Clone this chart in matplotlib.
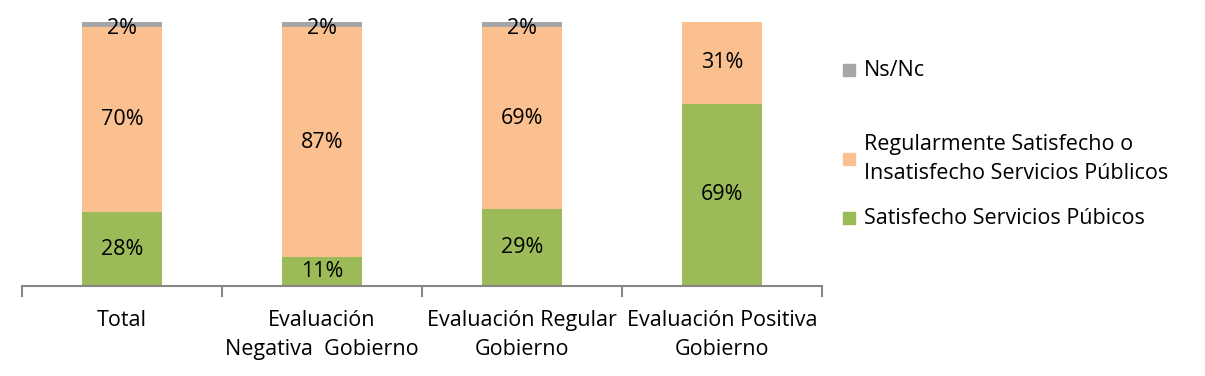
import matplotlib.pyplot as plt
from matplotlib.patches import Rectangle

# Data
categories = ["Total", "Evaluación\nNegativa  Gobierno", "Evaluación Regular\nGobierno",
              "Evaluación Positiva\nGobierno"]
satisfecho = [28, 11, 29, 69]
regular = [70, 87, 69, 31]
nsnc = [2, 2, 2, 0]
series_names = ["Satisfecho Servicios Púbicos",
                "Regularmente Satisfecho o\nInsatisfecho Servicios Públicos",
                "Ns/Nc"]
colors = ["#9BBB59", "#FAC090", "#A6A6A6"]

plt.rcParams['font.family'] = ['Open Sans', 'DejaVu Sans']
FS = 15.5

fig = plt.figure(figsize=(12.05, 3.76), dpi=100)
W, H = 1205, 376
ax = fig.add_axes([22 / W, (H - 286) / H, 800 / W, 264 / H])

x = list(range(len(categories)))
bottom = [0] * len(x)
for vals, col in zip([satisfecho, regular, nsnc], colors):
    ax.bar(x, vals, width=0.4, bottom=bottom, color=col, zorder=2)
    for i, v in enumerate(vals):
        if v > 0:
            ax.text(x[i], bottom[i] + v / 2 - (1.5 if v < 5 else 0), f"{v}%",
                    ha="center", va="center", fontsize=FS, color="black")
    bottom = [b + v for b, v in zip(bottom, vals)]

ax.set_xlim(-0.5, len(x) - 0.5)
ax.set_ylim(0, 100)
for s in ["top", "right", "left"]:
    ax.spines[s].set_visible(False)
ax.spines["bottom"].set_color("#868686")
ax.spines["bottom"].set_linewidth(1.5)
ax.set_yticks([])

# boundary ticks and centred labels
ax.set_xticks([i - 0.5 for i in range(len(x) + 1)])
ax.set_xticklabels([])
ax.tick_params(axis="x", which="major", length=8, width=1.5, color="#868686")
ax.set_xticks(x, minor=True)
ax.set_xticklabels(categories, minor=True, fontsize=FS, linespacing=1.5)
ax.tick_params(axis="x", which="minor", length=0, pad=17)

# Legend drawn manually (uneven spacing as in the original)
legend_y = [218, 159, 70]
for name, col, yy in zip(series_names, colors, legend_y):
    fig.patches.append(Rectangle((843 / W, (H - yy - 6) / H), 12 / W, 12 / H,
                                 transform=fig.transFigure, color=col))
    fig.text(864 / W, (H - yy) / H, name, ha="left", va="center",
             fontsize=FS, linespacing=1.45)

fig.savefig("out.png", dpi=100)
